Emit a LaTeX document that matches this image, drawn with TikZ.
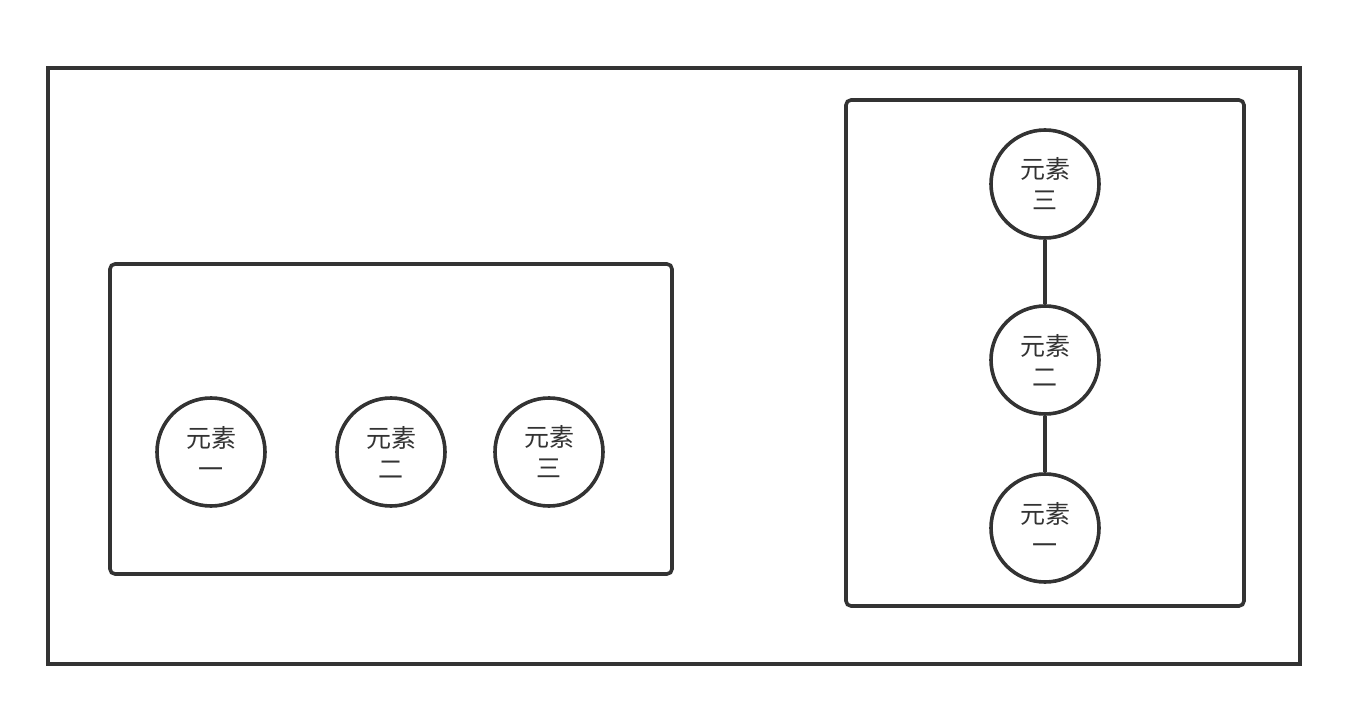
\documentclass[tikz,border=0pt]{standalone}
\usepackage{fontspec}
\newfontfamily\cjk{Noto Sans CJK SC}
\definecolor{ink}{HTML}{333333}
\tikzset{
  box/.style={draw=ink, line width=3.6pt},
  elem/.style={circle, draw=ink, line width=3.6pt, minimum size=108pt, inner sep=0pt,
    font=\cjk\fontsize{25}{31}\selectfont, text=ink, align=center},
  link/.style={draw=ink, line width=3.6pt}
}
\begin{document}
\begin{tikzpicture}[x=1pt,y=-1pt]
\useasboundingbox (0,0) rectangle (1352,722);
\draw[box] (48,68) rectangle (1300,664);
\draw[box, rounded corners=5pt] (110,264) rectangle (672,574);
\draw[box, rounded corners=5pt] (846,100) rectangle (1244,606);
\node[elem] (a1) at (211,452) {元素\\一};
\node[elem] (a2) at (391,452) {元素\\二};
\node[elem] (a3) at (549,452) {元素\\三};
\node[elem] (b3) at (1045,184) {元素\\三};
\node[elem] (b2) at (1045,360) {元素\\二};
\node[elem] (b1) at (1045,528) {元素\\一};
\draw[link] (b3) -- (b2);
\draw[link] (b2) -- (b1);
\end{tikzpicture}
\end{document}
